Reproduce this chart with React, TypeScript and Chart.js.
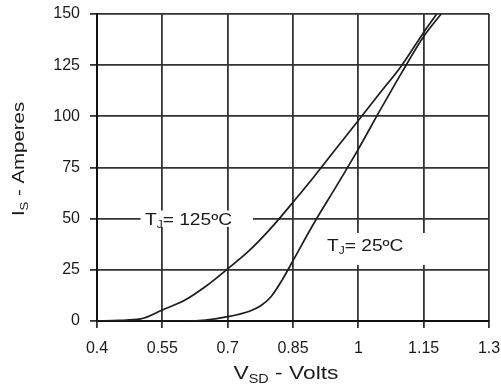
import React, { useEffect, useRef } from "react";
import { Chart, registerables } from "chart.js";

Chart.register(...registerables);

// ---- data ----
const vHot: number[] = [0.4, 0.45, 0.5, 0.55, 0.6, 0.65, 0.7, 0.75, 0.8, 0.85, 0.9, 0.95, 1.0, 1.05, 1.1, 1.15, 1.18];
const iHot: number[] = [0, 0.3, 1, 5.4, 10, 17, 25.5, 34.5, 45.5, 58, 71, 84.5, 98, 111.5, 125, 141, 150];

const vCold: number[] = [0.4, 0.6, 0.65, 0.7, 0.75, 0.775, 0.8, 0.825, 0.85, 0.9, 0.95, 1.0, 1.05, 1.1, 1.15, 1.19];
const iCold: number[] = [0, 0, 0.5, 2.1, 4.8, 7.3, 12, 20, 29.5, 48.5, 66, 84, 103, 121.5, 139, 150];

const xTicks: number[] = [0.4, 0.55, 0.7, 0.85, 1, 1.15, 1.3];
const xTickLabels: string[] = ["0.4", "0.55", "0.7", "0.85", "1", "1.15", "1.3"];
const yTicks: number[] = [0, 25, 50, 75, 100, 125, 150];

const hotLabel = { main: "T", sub: "J", rest: "= 125ºC" };
const coldLabel = { main: "T", sub: "J", rest: "= 25ºC" };

// label boxes in data units
const hotBox = { x0: 0.5, x1: 0.758, y0: 46, y1: 54, tx: 0.51, ty: 50 };
const coldBox = { x0: 0.908, x1: 1.16, y0: 27.4, y1: 43, tx: 0.928, ty: 37 };

const FONT = "'Liberation Sans', Arial, sans-serif";
const TEXT_COLOR = "#1a1a1a";
const GRID = "#333333";
const STRETCH = 1.2;

function drawSubText(
  ctx: CanvasRenderingContext2D,
  x: number,
  y: number,
  main: string,
  sub: string,
  rest: string,
  size: number,
  subSize: number,
  subDrop: number
) {
  ctx.save();
  ctx.translate(x, y);
  ctx.scale(STRETCH, 1);
  ctx.fillStyle = TEXT_COLOR;
  ctx.textBaseline = "alphabetic";
  ctx.textAlign = "left";
  ctx.font = `${size}px ${FONT}`;
  let cx = 0;
  ctx.fillText(main, cx, 0);
  cx += ctx.measureText(main).width;
  ctx.font = `${subSize}px ${FONT}`;
  ctx.fillText(sub, cx, subDrop);
  cx += ctx.measureText(sub).width;
  ctx.font = `${size}px ${FONT}`;
  ctx.fillText(rest, cx, 0);
  ctx.restore();
}

function measureSub(ctx: CanvasRenderingContext2D, main: string, sub: string, rest: string, size: number, subSize: number) {
  ctx.save();
  ctx.font = `${size}px ${FONT}`;
  let w = ctx.measureText(main).width + ctx.measureText(rest).width;
  ctx.font = `${subSize}px ${FONT}`;
  w += ctx.measureText(sub).width;
  ctx.restore();
  return w * STRETCH;
}

const annotationPlugin = {
  id: "annotations",
  beforeDatasetsDraw(chart: any) {
    const ctx: CanvasRenderingContext2D = chart.ctx;
    const xs = chart.scales.x;
    const ys = chart.scales.y;
    const boxes = [
      { b: hotBox, l: hotLabel },
      { b: coldBox, l: coldLabel },
    ];
    for (const { b, l } of boxes) {
      const x0 = xs.getPixelForValue(b.x0);
      const x1 = xs.getPixelForValue(b.x1);
      const y0 = ys.getPixelForValue(b.y1);
      const y1 = ys.getPixelForValue(b.y0);
      ctx.save();
      ctx.fillStyle = "#ffffff";
      ctx.fillRect(x0, y0, x1 - x0, y1 - y0);
      ctx.restore();
      const tx = xs.getPixelForValue(b.tx);
      const ty = ys.getPixelForValue(b.ty);
      drawSubText(ctx, tx, ty + 6, l.main, l.sub, l.rest, 16, 10, 3);
    }
  },
  afterDraw(chart: any) {
    const ctx: CanvasRenderingContext2D = chart.ctx;
    const area = chart.chartArea;
    // x axis title
    const xw = measureSub(ctx, "V", "SD", " - Volts", 19, 12);
    const xc = (area.left + area.right) / 2 - 7;
    drawSubText(ctx, xc - xw / 2, 379, "V", "SD", " - Volts", 19, 12, 4);
    // y axis title
    const yw = measureSub(ctx, "I", "S", " - Amperes", 17, 11);
    ctx.save();
    ctx.translate(24, 159);
    ctx.rotate(-Math.PI / 2);
    drawSubText(ctx, -yw / 2, 0, "I", "S", " - Amperes", 17, 11, 4);
    ctx.restore();
  },
};

export default function App() {
  const ref = useRef<HTMLCanvasElement | null>(null);

  useEffect(() => {
    document.body.style.margin = "0";
    const canvas = ref.current;
    if (!canvas) return;
    const toPts = (xs: number[], ys: number[]) => xs.map((x, i) => ({ x, y: ys[i] }));
    const chart = new Chart(canvas, {
      type: "line",
      data: {
        datasets: [
          {
            label: "TJ = 125ºC",
            data: toPts(vHot, iHot),
            borderColor: "#1c1c1c",
            borderWidth: 1.7,
            pointRadius: 0,
            fill: false,
            cubicInterpolationMode: "monotone",
          },
          {
            label: "TJ = 25ºC",
            data: toPts(vCold, iCold),
            borderColor: "#1c1c1c",
            borderWidth: 1.7,
            pointRadius: 0,
            fill: false,
            cubicInterpolationMode: "monotone",
          },
        ],
      },
      options: {
        animation: false,
        responsive: false,
        devicePixelRatio: 1,
        events: [],
        layout: { padding: { left: 0, right: 12, top: 14, bottom: 0 } },
        plugins: {
          legend: { display: false },
          tooltip: { enabled: false },
          title: { display: false },
        },
        scales: {
          x: {
            type: "linear",
            min: 0.4,
            max: 1.3,
            afterBuildTicks: (scale: any) => {
              scale.ticks = xTicks.map((v) => ({ value: v }));
            },
            afterFit: (scale: any) => {
              scale.height = 66;
              scale.paddingLeft = 0;
              scale.paddingRight = 0;
            },
            ticks: {
              color: TEXT_COLOR,
              font: { family: FONT, size: 16 },
              padding: 11,
              maxRotation: 0,
              autoSkip: false,
              callback: (v: any) => {
                const i = xTicks.indexOf(Number(v));
                return i >= 0 ? xTickLabels[i] : String(v);
              },
            },
            grid: {
              color: GRID,
              lineWidth: 1.8,
              drawTicks: true,
              tickLength: 7,
              tickColor: GRID,
            },
            border: { display: true, color: "#111", width: 2 },
          },
          y: {
            type: "linear",
            min: 0,
            max: 150,
            afterBuildTicks: (scale: any) => {
              scale.ticks = yTicks.map((v) => ({ value: v }));
            },
            afterFit: (scale: any) => {
              scale.width = 97;
              scale.paddingTop = 0;
              scale.paddingBottom = 0;
            },
            ticks: {
              color: TEXT_COLOR,
              font: { family: FONT, size: 16 },
              padding: 10,
              autoSkip: false,
              callback: (v: any) => String(v),
            },
            grid: {
              color: GRID,
              lineWidth: 1.8,
              drawTicks: true,
              tickLength: 7,
              tickColor: GRID,
            },
            border: { display: true, color: "#111", width: 2 },
          },
        },
      },
      plugins: [annotationPlugin],
    });
    return () => chart.destroy();
  }, []);

  return (
    <div style={{ position: "absolute", left: 0, top: 0, width: 501, height: 387, background: "#fff" }}>
      <canvas ref={ref} width={501} height={387} style={{ width: 501, height: 387, display: "block" }} />
    </div>
  );
}
